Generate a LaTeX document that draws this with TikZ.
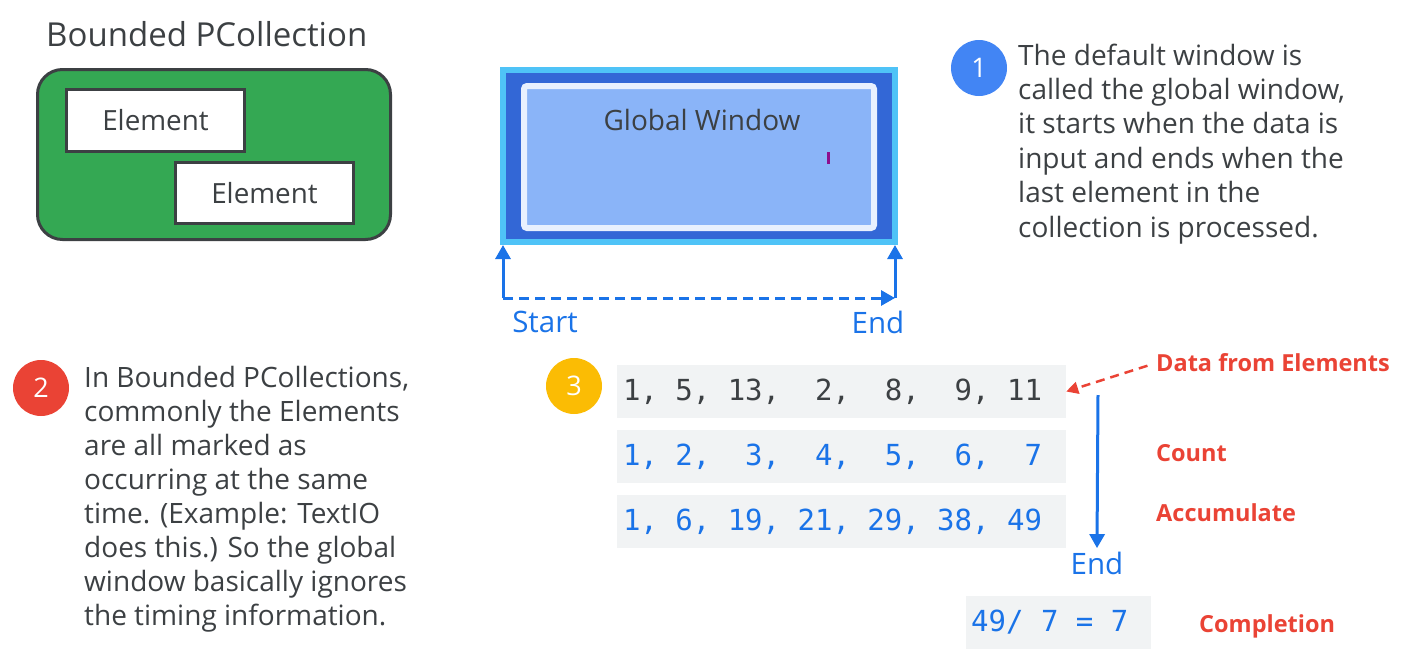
\documentclass[tikz,border=0pt]{standalone}
\usepackage{fontspec}
\setmainfont{Open Sans}
\setmonofont{DejaVu Sans Mono}
\usetikzlibrary{positioning,arrows.meta}

\definecolor{ink}{HTML}{3C4043}
\definecolor{pcgreen}{HTML}{34A853}
\definecolor{skyblue}{HTML}{4FC3F7}
\definecolor{deepblue}{HTML}{3367D6}
\definecolor{paleblue}{HTML}{E8F0FE}
\definecolor{midblue}{HTML}{8AB4F8}
\definecolor{gblue}{HTML}{1A73E8}
\definecolor{cblue}{HTML}{4285F4}
\definecolor{gred}{HTML}{EA4335}
\definecolor{gyellow}{HTML}{FBBC04}
\definecolor{rowgray}{HTML}{F1F3F4}
\definecolor{cursor}{HTML}{8E0E8E}

% one character wide gap in the mono rows
\newcommand{\gap}{\hphantom{0}}

\begin{document}
\begin{tikzpicture}[x=1pt, y=-1pt, every node/.style={text=ink},
	txt/.style={anchor=base west, align=left, inner sep=0, font=\fontsize{28}{34.4}\selectfont},
	el/.style={draw=ink, line width=3, fill=white, minimum width=178, minimum height=62, font=\fontsize{27.8}{30}\selectfont},
	num/.style={circle, fill=#1, minimum size=56, inner sep=0, text=white, font=\fontsize{27}{30}\selectfont},
	row/.style={fill=rowgray, text width=437, inner xsep=6, minimum height=53, align=left, font=\ttfamily\fontsize{29}{30}\selectfont},
	lbl/.style={anchor=west, inner sep=0, text=gred, font=\bfseries\fontsize{23.5}{27}\selectfont},
	blbl/.style={text=gblue, font=\fontsize{29.5}{32}\selectfont},
	arr/.style={-{Triangle[length=14, width=15]}, line width=3, draw=gblue}]
	\useasboundingbox (0,0) rectangle (1401,670);

	% bounded pcollection
	\node[anchor=base west, inner sep=0, font=\fontsize{33}{38}\selectfont] (title) at (46,46.5) {Bounded PCollection};
	\node[draw=ink, line width=3, fill=pcgreen, rounded corners=25, minimum width=353, minimum height=170] (pc) at (214,154.5) {};
	\node[el] (e1) at (155.5,120.5) {Element};
	\node[el, minimum height=61] (e2) at (264.5,193) {Element};

	% global window
	\node[draw=skyblue, line width=6, fill=deepblue, minimum width=392, minimum height=172] (gw) at (699,156) {};
	\node[draw=paleblue, line width=6, fill=midblue, minimum width=350, minimum height=142, rounded corners=3] (gwin) at (699,157) {};
	\node[font=\fontsize{28}{32}\selectfont] (gwtxt) at (702,120) {Global Window};
	\fill[cursor] (827,152) rectangle (830,164);

	\coordinate (st) at (503,298);
	\coordinate (en) at (895,298);
	\draw[arr] (st) -- (st |- gw.south);
	\draw[arr] (en) -- (en |- gw.south);
	\draw[arr, dashed, dash pattern=on 10 off 6] (st) -- (en);
	\node[blbl] (start) at (545,322) {Start};
	\node[blbl] (end) at (878,322) {End};

	% notes (anchored on the last line)
	\node[num=cblue] (n1) at (979,68) {1};
	\node[txt] (t1) at (1018,237) {The default window is\\called the global window,\\it starts when the data is\\input and ends when the\\last element in the\\collection is processed.};
	\node[num=gred] (n2) at (41,388) {2};
	\node[txt, font=\fontsize{28}{34}\selectfont] (t2) at (84,625) {In Bounded PCollections,\\commonly the Elements\\are all marked as\\occurring at the same\\time. (Example: TextIO\\does this.) So the global\\window basically ignores\\the timing information.};
	\node[num=gyellow] (n3) at (574,386) {3};

	% rows of values
	\node[row] (r1) at (841.5,391.5) {1,\gap5,\gap13,\gap\gap2,\gap\gap8,\gap\gap9,\gap11};
	\node[row, below=12pt of r1, text=gblue] (r2) {1,\gap2,\gap\gap3,\gap\gap4,\gap\gap5,\gap\gap6,\gap\gap7};
	\node[row, below=11pt of r2, text=gblue] (r3) {1,\gap6,\gap19,\gap21,\gap29,\gap38,\gap49};
	\node[row, text width=175, inner xsep=5, anchor=west, text=gblue] (res) at (966,622.5) {49/\gap7\gap=\gap7};

	\node[blbl] (end2) at (1097,563) {End};
	\coordinate (ct) at (1098,395);
	\draw[arr] (ct) -- (end2.north);

	\node[lbl] (data) at (1156,363) {Data from Elements};
	\node[lbl] (cnt) at (1156,453) {Count};
	\node[lbl] (acc) at (1156,513) {Accumulate};
	\node[lbl] (cmp) at (1199,626) {Completion};
	\draw[-{Triangle[length=12, width=12]}, line width=2.5, draw=gred, dashed, dash pattern=on 9 off 6, shorten <=9] (data.west) -- (r1.east);
\end{tikzpicture}
\end{document}
